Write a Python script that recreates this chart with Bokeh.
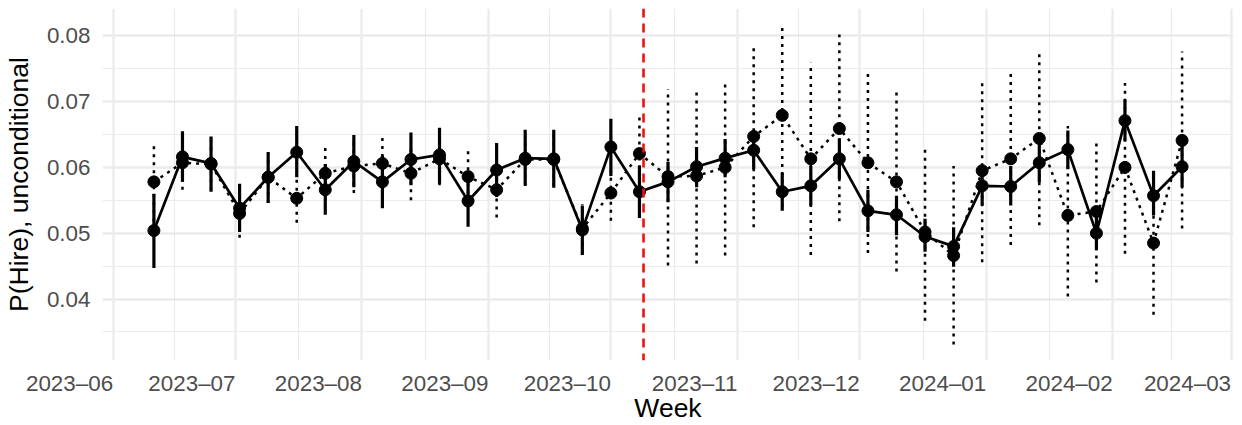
import datetime as dt
from bokeh.plotting import figure
from bokeh.models import (FixedTicker, Range1d, Span, ColumnDataSource,
                          CustomJSTickFormatter)
from bokeh.embed import file_html
from bokeh.resources import INLINE

# ---------------- data ----------------
weeks = ["2023-06-11", "2023-06-18", "2023-06-25", "2023-07-02", "2023-07-09",
         "2023-07-16", "2023-07-23", "2023-07-30", "2023-08-06", "2023-08-13",
         "2023-08-20", "2023-08-27", "2023-09-03", "2023-09-10", "2023-09-17",
         "2023-09-24", "2023-10-01", "2023-10-08", "2023-10-15", "2023-10-22",
         "2023-10-29", "2023-11-05", "2023-11-12", "2023-11-19", "2023-11-26",
         "2023-12-03", "2023-12-10", "2023-12-17", "2023-12-24", "2023-12-31",
         "2024-01-07", "2024-01-14", "2024-01-21", "2024-01-28", "2024-02-04",
         "2024-02-11", "2024-02-18"]

# solid series (estimate + interval)
solid_est = [0.0504, 0.0616, 0.0606, 0.0538, 0.0585, 0.0623, 0.0566, 0.0609, 0.0578, 0.0612,
             0.0619, 0.0549, 0.0596, 0.0614, 0.0613, 0.0505, 0.0631, 0.0563, 0.0578, 0.0601,
             0.0614, 0.0626, 0.0563, 0.0572, 0.0613, 0.0534, 0.0528, 0.0495, 0.0480, 0.0572,
             0.0571, 0.0607, 0.0627, 0.0500, 0.0671, 0.0557, 0.0601]
solid_lo = [0.0447, 0.0578, 0.0563, 0.0502, 0.0546, 0.0585, 0.0528, 0.0570, 0.0538, 0.0573,
            0.0575, 0.0510, 0.0555, 0.0572, 0.0569, 0.0467, 0.0587, 0.0523, 0.0547, 0.0570,
            0.0585, 0.0597, 0.0534, 0.0542, 0.0582, 0.0502, 0.0497, 0.0472, 0.0449, 0.0542,
            0.0542, 0.0577, 0.0597, 0.0475, 0.0640, 0.0527, 0.0570]
solid_hi = [0.0560, 0.0655, 0.0647, 0.0575, 0.0623, 0.0663, 0.0605, 0.0649, 0.0618, 0.0653,
            0.0660, 0.0588, 0.0637, 0.0657, 0.0657, 0.0542, 0.0674, 0.0603, 0.0608, 0.0631,
            0.0643, 0.0655, 0.0592, 0.0602, 0.0644, 0.0566, 0.0557, 0.0522, 0.0509, 0.0602,
            0.0602, 0.0638, 0.0656, 0.0532, 0.0703, 0.0595, 0.0632]

# dotted series (estimate + interval)
dotted_est = [0.0578, 0.0607, 0.0605, 0.0530, 0.0585, 0.0553, 0.0591, 0.0602, 0.0606, 0.0591,
              0.0613, 0.0586, 0.0566, 0.0612, 0.0612, 0.0507, 0.0561, 0.0621, 0.0586, 0.0587,
              0.0600, 0.0647, 0.0679, 0.0613, 0.0659, 0.0607, 0.0578, 0.0502, 0.0466, 0.0595,
              0.0613, 0.0644, 0.0527, 0.0533, 0.0600, 0.0485, 0.0641]
dotted_lo = [0.0518, 0.0566, 0.0565, 0.0493, 0.0546, 0.0516, 0.0552, 0.0561, 0.0567, 0.0550,
             0.0573, 0.0547, 0.0524, 0.0572, 0.0572, 0.0470, 0.0519, 0.0562, 0.0451, 0.0454,
             0.0466, 0.0509, 0.0540, 0.0467, 0.0518, 0.0470, 0.0442, 0.0367, 0.0331, 0.0456,
             0.0482, 0.0512, 0.0404, 0.0425, 0.0469, 0.0376, 0.0507]
dotted_hi = [0.0638, 0.0648, 0.0645, 0.0567, 0.0624, 0.0590, 0.0630, 0.0643, 0.0645, 0.0632,
             0.0653, 0.0625, 0.0608, 0.0652, 0.0652, 0.0544, 0.0603, 0.0680, 0.0719, 0.0719,
             0.0732, 0.0783, 0.0817, 0.0759, 0.0802, 0.0742, 0.0715, 0.0631, 0.0602, 0.0732,
             0.0746, 0.0774, 0.0663, 0.0640, 0.0728, 0.0595, 0.0776]

month_ticks = ["2023-06-01", "2023-07-01", "2023-08-01", "2023-09-01", "2023-10-01",
               "2023-11-01", "2023-12-01", "2024-01-01", "2024-02-01", "2024-03-01"]
month_labels = ["2023–06", "2023–07", "2023–08", "2023–09", "2023–10",
                "2023–11", "2023–12", "2024–01", "2024–02", "2024–03"]
y_ticks = [0.04, 0.05, 0.06, 0.07, 0.08]
y_minor_ticks = [0.035, 0.045, 0.055, 0.065, 0.075]
event_date = "2023-10-09"

# ---------------- helpers ----------------
def to_dt(s):
    return dt.datetime.strptime(s, "%Y-%m-%d")

def to_ms(d):
    return (d - dt.datetime(1970, 1, 1)).total_seconds() * 1000.0

FONT = "Liberation Sans"
GRID = "#EBEBEB"

week_dt = [to_dt(s) for s in weeks]
tick_ms = [to_ms(to_dt(s)) for s in month_ticks]
minor_ms = [(a + b) / 2 for a, b in zip(tick_ms[:-1], tick_ms[1:])]

src = ColumnDataSource(dict(week=week_dt,
                            s=solid_est, slo=solid_lo, shi=solid_hi,
                            d=dotted_est, dlo=dotted_lo, dhi=dotted_hi))

# ggplot-like 5% expansion
x0, x1 = min(week_dt), max(week_dt)
xpad = (x1 - x0) * 0.05
all_y = solid_lo + solid_hi + dotted_lo + dotted_hi
y0, y1 = min(all_y), max(all_y)
ypad = (y1 - y0) * 0.05

p = figure(width=1242, height=425, x_axis_type="datetime",
           output_backend="svg", toolbar_location=None,
           x_range=Range1d(x0 - xpad, x1 + xpad),
           y_range=Range1d(y0 - ypad, y1 + ypad),
           min_border_left=100, min_border_right=9,
           min_border_top=8, min_border_bottom=63)
p.outline_line_color = None
p.background_fill_color = "white"
p.border_fill_color = "white"

# month labels: looked up by tick value; a vanishing positive orientation makes
# Bokeh anchor each label's right end at its tick, as in the reference
p.xaxis.ticker = FixedTicker(ticks=tick_ms, minor_ticks=minor_ms)
p.xaxis.formatter = CustomJSTickFormatter(
    args=dict(labels=month_labels, pos=tick_ms),
    code="""
    let best = 0;
    for (let i = 1; i < pos.length; i++) {
        if (Math.abs(pos[i] - tick) < Math.abs(pos[best] - tick)) best = i;
    }
    return labels[best];
    """)
p.xaxis.major_label_orientation = 1e-6
p.yaxis.ticker = FixedTicker(ticks=y_ticks, minor_ticks=y_minor_ticks)
for ax in (p.xaxis, p.yaxis):
    ax.axis_line_color = None
    ax.major_tick_line_color = None
    ax.minor_tick_line_color = None
    ax.major_tick_out = 0
    ax.major_tick_in = 0
    ax.minor_tick_out = 0
    ax.minor_tick_in = 0
    ax.major_label_text_font = FONT
    ax.major_label_text_font_size = "22.4px"
    ax.major_label_text_color = "#4D4D4D"
    ax.axis_label_text_font = FONT
    ax.axis_label_text_font_size = "26.5px"
    ax.axis_label_text_color = "black"
    ax.axis_label_text_font_style = "normal"
p.yaxis.major_label_standoff = 12
p.yaxis.axis_label = "P(Hire), unconditional"
p.yaxis.axis_label_standoff = 10
p.xaxis.axis_label = "Week"
p.xaxis.major_label_standoff = 23
p.xaxis.axis_label_standoff = -19

# grid
p.xgrid.grid_line_color = GRID
p.xgrid.grid_line_width = 2.3
p.xgrid.minor_grid_line_color = GRID
p.xgrid.minor_grid_line_width = 1.2
p.ygrid.grid_line_color = GRID
p.ygrid.grid_line_width = 2.3
p.ygrid.minor_grid_line_color = GRID
p.ygrid.minor_grid_line_width = 1.2

# event line
p.add_layout(Span(location=to_ms(to_dt(event_date)), dimension="height",
                  line_color="#EE1111", line_width=2.6, line_dash="9 6"))

# dotted series
DOT = "3 5"
p.segment(x0="week", y0="dlo", x1="week", y1="dhi", source=src,
          line_color="black", line_width=2.5, line_dash=DOT)
p.line(x="week", y="d", source=src, line_color="black", line_width=2.5, line_dash=DOT)
p.scatter(x="week", y="d", source=src, size=12, color="black")

# solid series
p.segment(x0="week", y0="slo", x1="week", y1="shi", source=src,
          line_color="black", line_width=3.2)
p.line(x="week", y="s", source=src, line_color="black", line_width=2.7)
p.scatter(x="week", y="s", source=src, size=12, color="black")

open("out.html", "w").write(file_html(p, INLINE))
